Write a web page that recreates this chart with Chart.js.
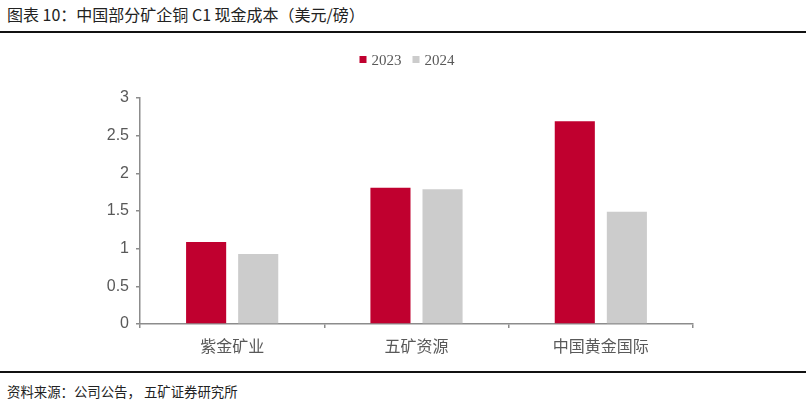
<!DOCTYPE html>
<html>
<head>
<meta charset="utf-8">
<script src="https://cdn.jsdelivr.net/npm/chart.js@4.4.1/dist/chart.umd.min.js"></script>
<style>
  html, body { margin: 0; padding: 0; background: #fff; }
  body { width: 806px; height: 401px; position: relative; overflow: hidden; font-family: "Noto Sans CJK SC", "Liberation Sans", sans-serif; }
  #title { position: absolute; left: 7px; top: 2px; font-size: 16px; color: #222; white-space: nowrap; }
  .rule { position: absolute; left: 0; width: 806px; height: 2px; background: #111; }
  #source { position: absolute; left: 7px; top: 381px; font-size: 13.4px; color: #222; white-space: nowrap; }
  #wrap { position: absolute; left: 0; top: 40px; width: 806px; height: 330px; }
</style>
</head>
<body>
<div id="title">图表 10：中国部分矿企铜 C1 现金成本（美元/磅）</div>
<div class="rule" style="top:31px"></div>
<div id="wrap"><canvas id="chart"></canvas></div>
<div class="rule" style="top:371px"></div>
<div id="source">资料来源：公司公告， 五矿证券研究所</div>
<script>
// 数据
const categories = ['紫金矿业', '五矿资源', '中国黄金国际'];
const seriesNames = ['2023', '2024'];
const values2023 = [1.09, 1.81, 2.69];
const values2024 = [0.93, 1.79, 1.49];
const yTicks = [0, 0.5, 1, 1.5, 2, 2.5, 3];

const colors = ['#c0002f', '#cccccc'];

// legenda desenhada no topo, centrada
const topLegend = {
    id: 'topLegend',
    afterDraw(chart) {
        const ctx = chart.ctx;
        ctx.save();
        ctx.font = '15px "Liberation Serif", serif';
        ctx.textBaseline = 'middle';
        const items = chart.data.datasets.map(ds => ({ label: ds.label, color: ds.backgroundColor }));
        const box = 7, gapText = 5, gapItem = 11;
        const widths = items.map(it => box + gapText + ctx.measureText(it.label).width);
        const total = widths.reduce((a, b) => a + b, 0) + gapItem * (items.length - 1);
        let x = 407 - total / 2;
        const y = 20;
        items.forEach((it, i) => {
            ctx.fillStyle = it.color;
            ctx.fillRect(x, y - 4, box, box);
            ctx.fillStyle = '#595959';
            ctx.fillText(it.label, x + box + gapText, y + 1);
            x += widths[i] + gapItem;
        });
        ctx.restore();
    }
};

new Chart(document.getElementById('chart'), {
    type: 'bar',
    data: {
        labels: categories,
        datasets: [
            { label: seriesNames[0], data: values2023, backgroundColor: colors[0] },
            { label: seriesNames[1], data: values2024, backgroundColor: colors[1] }
        ]
    },
    options: {
        responsive: true,
        maintainAspectRatio: false,
        animation: false,
        layout: { padding: { top: 58, right: 113, left: 0, bottom: 0 } },
        datasets: { bar: { categoryPercentage: 0.565, barPercentage: 0.77 } },
        plugins: {
            legend: { display: false },
            tooltip: { enabled: false }
        },
        scales: {
            x: {
                grid: { display: true, drawOnChartArea: false, offset: true, color: '#8c8c8c', tickLength: 4, lineWidth: 1.5 },
                border: { color: '#8c8c8c', width: 1.5 },
                ticks: { color: '#595959', font: { size: 16, family: '"Noto Sans CJK SC", sans-serif' }, padding: 8 },
                afterFit(scale) { scale.height = 46; }
            },
            y: {
                min: 0,
                max: 3,
                afterBuildTicks(scale) { scale.ticks = yTicks.map(v => ({ value: v })); },
                grid: { display: true, drawOnChartArea: false, color: '#8c8c8c', tickLength: 4, lineWidth: 1.5 },
                border: { color: '#8c8c8c', width: 1.5 },
                ticks: {
                    color: '#595959',
                    font: { size: 16, family: '"Liberation Sans", sans-serif' },
                    padding: 7,
                    callback: v => String(v)
                },
                afterFit(scale) { scale.width = 140; }
            }
        }
    },
    plugins: [topLegend]
});
</script>
</body>
</html>
